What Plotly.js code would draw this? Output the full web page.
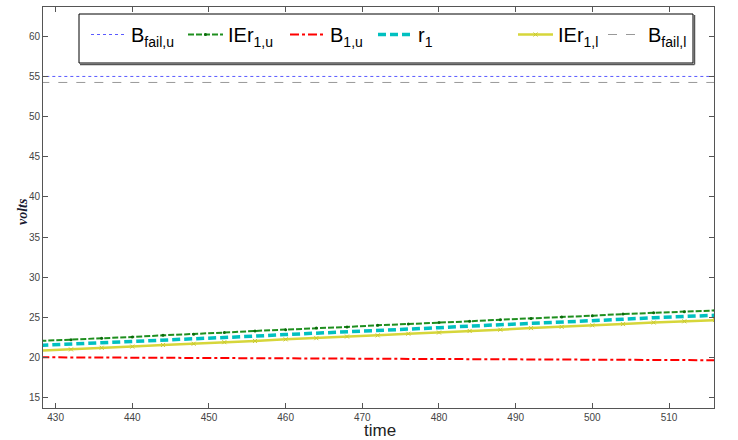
<!DOCTYPE html>
<html>
<head>
<meta charset="utf-8">
<script src="https://cdn.plot.ly/plotly-3.0.1.min.js"></script>
<style>html,body{margin:0;padding:0;background:#fff;}#chart{width:738px;height:440px;}</style>
</head>
<body>
<div id="chart"></div>
<script>
const time = [428,432,436,440,444,448,452,456,460,464,468,472,476,480,484,488,492,496,500,504,508,512,516];
const bFailU = [55,55,55,55,55,55,55,55,55,55,55,55,55,55,55,55,55,55,55,55,55,55,55];
const ier1U = [22.05,22.2,22.4,22.55,22.75,22.9,23.1,23.3,23.45,23.65,23.8,24.0,24.15,24.35,24.5,24.7,24.85,25.05,25.2,25.4,25.55,25.7,25.85];
const b1U = [20.02,20.0,19.99,19.97,19.95,19.93,19.92,19.9,19.88,19.86,19.85,19.83,19.81,19.8,19.78,19.76,19.75,19.73,19.71,19.7,19.68,19.67,19.65];
const r1 = [21.5,21.65,21.8,21.95,22.15,22.3,22.5,22.65,22.85,23.0,23.2,23.35,23.55,23.7,23.9,24.05,24.25,24.4,24.6,24.75,24.95,25.1,25.25];
const ier1L = [20.85,21.0,21.2,21.35,21.55,21.7,21.9,22.05,22.25,22.4,22.6,22.75,22.95,23.1,23.3,23.45,23.65,23.8,24.0,24.15,24.35,24.5,24.65];
const bFailL = [54.25,54.25,54.25,54.25,54.25,54.25,54.25,54.25,54.25,54.25,54.25,54.25,54.25,54.25,54.25,54.25,54.25,54.25,54.25,54.25,54.25,54.25,54.25];
const names = ['B<sub>fail,u</sub>','IEr<sub>1,u</sub>','B<sub>1,u</sub>','r<sub>1</sub>','IEr<sub>1,l</sub>','B<sub>fail,l</sub>'];
const xTicks = [430,440,450,460,470,480,490,500,510];
const yTicks = [15,20,25,30,35,40,45,50,55,60];
const xTitle = 'time';
const yTitle = 'volts';

const legIds = ['legend','legend2','legend3','legend4','legend5','legend6'];
const traces = [
  {x: time, y: bFailU, name: names[0], legend: legIds[0], mode: 'lines', line: {color: '#5a5aff', width: 1, dash: 'dot'}},
  {x: time, y: ier1U, name: names[1], legend: legIds[1], mode: 'lines+markers', line: {color: '#1f8f1f', width: 2, dash: '6px,2px'}, marker: {color: '#0a6a0a', size: 3, symbol: 'circle'}},
  {x: time, y: b1U, name: names[2], legend: legIds[2], mode: 'lines', line: {color: '#ff0000', width: 2, dash: 'dashdot'}},
  {x: time, y: r1, name: names[3], legend: legIds[3], mode: 'lines', line: {color: '#00c0c0', width: 3.5, dash: '8px,4px'}},
  {x: time, y: ier1L, name: names[4], legend: legIds[4], mode: 'lines+markers', line: {color: '#d6d63a', width: 2.5}, marker: {color: '#c8c830', size: 4, symbol: 'x-thin', line: {color: '#c8c830', width: 1}}},
  {x: time, y: bFailL, name: names[5], legend: legIds[5], mode: 'lines', line: {color: '#999999', width: 1, dash: 'dash'}}
];

const L = 43, R = 714, T = 7, B = 408;
const W = R - L, H = B - T;
function px(x){return (x - L) / W;}
function py(y){return 1 - (y - T) / H;}

const legStarts = [86, 183, 285, 373, 513, 603];
const FONT = "'Liberation Sans', Arial, sans-serif";

const layout = {
  width: 738, height: 440,
  margin: {l: L, r: 738 - R, t: T, b: 440 - B, pad: 0},
  paper_bgcolor: '#ffffff', plot_bgcolor: '#ffffff',
  showlegend: true,
  xaxis: {
    range: [428.35, 515.87], tickvals: xTicks, ticktext: xTicks.map(String),
    ticks: 'inside', ticklen: 5, tickcolor: '#555', mirror: 'ticks',
    showline: true, linecolor: '#555', linewidth: 1, showgrid: false, zeroline: false,
    tickfont: {family: FONT, size: 10, color: '#444'}
  },
  yaxis: {
    range: [13.7, 63.65], tickvals: yTicks, ticktext: yTicks.map(String),
    ticks: 'inside', ticklen: 5, tickcolor: '#555', mirror: 'ticks',
    showline: true, linecolor: '#555', linewidth: 1, showgrid: false, zeroline: false,
    tickfont: {family: FONT, size: 10, color: '#444'}
  },
  annotations: [
    {text: xTitle, xref: 'paper', yref: 'paper', x: px(380), y: py(420), xanchor: 'center', yanchor: 'top', showarrow: false, borderpad: 0,
     font: {family: FONT, size: 17, color: '#222'}},
    {text: yTitle, xref: 'paper', yref: 'paper', x: px(22), y: py(212), xanchor: 'center', yanchor: 'middle', showarrow: false, textangle: -90,
     font: {family: "'Liberation Serif', 'Times New Roman', serif", size: 14, color: '#1a1a30', weight: 'bold', style: 'italic'}}
  ],
  shapes: [
    {type: 'rect', xref: 'paper', yref: 'paper', x0: px(79), x1: px(693), y0: py(63), y1: py(14), line: {color: '#000', width: 1}, fillcolor: '#ffffff', layer: 'below'},
    {type: 'line', xref: 'paper', yref: 'paper', x0: px(80), x1: px(694.5), y0: py(64.5), y1: py(64.5), line: {color: '#555', width: 1.5}},
    {type: 'line', xref: 'paper', yref: 'paper', x0: px(694.5), x1: px(694.5), y0: py(64.5), y1: py(15), line: {color: '#555', width: 1.5}}
  ]
};
legIds.forEach((id, i) => {
  layout[id] = {
    orientation: 'h', x: px(legStarts[i]), y: py(15), xanchor: 'left', yanchor: 'top',
    bgcolor: 'rgba(0,0,0,0)', borderwidth: 0,
    font: {family: FONT, size: 20, color: '#000'},
    itemwidth: 35
  };
});

Plotly.newPlot('chart', traces, layout, {staticPlot: true, displayModeBar: false});
</script>
</body>
</html>
